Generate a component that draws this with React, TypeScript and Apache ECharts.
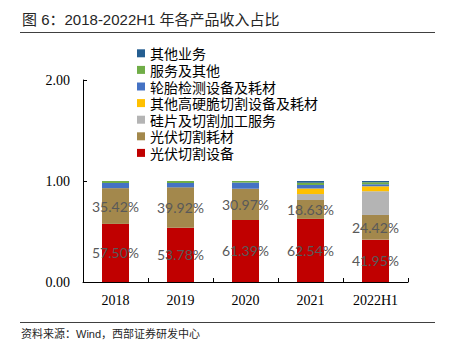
import React, { useEffect, useRef } from "react";
import * as echarts from "echarts";

const categories = ["2018", "2019", "2020", "2021", "2022H1"];
const pvEquipment = [57.5, 53.78, 61.39, 62.54, 41.95];
const pvConsumables = [35.42, 39.92, 30.97, 18.63, 24.42];
const waferService = [0, 0, 0, 5.9, 23.5];
const otherHardBrittle = [0, 0, 0, 5.5, 4.9];
const tireTesting = [5.08, 4.3, 6.04, 3.5, 2.0];
const services = [2.0, 2.0, 1.6, 2.2, 2.0];
const otherBusiness = [0, 0, 0, 1.73, 1.23];
const yTicks = [0, 1, 2];

const seriesDefs = [
  { name: "光伏切割设备", data: pvEquipment, color: "#C00000", label: true },
  { name: "光伏切割耗材", data: pvConsumables, color: "#A3884C", label: true },
  { name: "硅片及切割加工服务", data: waferService, color: "#B4B4B4", label: false },
  { name: "其他高硬脆切割设备及耗材", data: otherHardBrittle, color: "#FFC000", label: false },
  { name: "轮胎检测设备及耗材", data: tireTesting, color: "#4472C4", label: false },
  { name: "服务及其他", data: services, color: "#70AD47", label: false },
  { name: "其他业务", data: otherBusiness, color: "#255E91", label: false },
];

export default function App() {
  const ref = useRef<HTMLDivElement>(null);
  useEffect(() => {
    document.body.style.margin = "0";
    const chart = echarts.init(ref.current!, null, { renderer: "svg" });
    const serif = "'Liberation Serif', 'Times New Roman', serif";
    const cjk = "'Liberation Sans', 'Noto Sans CJK SC', sans-serif";
    chart.setOption({
      animation: false,
      grid: { left: 83, right: 41, top: 80, bottom: 68, containLabel: false },
      legend: {
        orient: "vertical",
        left: 137,
        top: 45,
        padding: 0,
        itemWidth: 8,
        itemHeight: 8,
        itemGap: 0,
        icon: "rect",
        textStyle: { fontSize: 14, lineHeight: 16.6, color: "#000", fontFamily: "'Noto Sans CJK SC', sans-serif" },
        data: seriesDefs.map((s) => s.name).reverse(),
      },
      xAxis: {
        type: "category",
        data: categories,
        axisLine: { show: true, lineStyle: { color: "#000", width: 1 } },
        axisTick: { show: true, inside: true, length: 4, lineStyle: { color: "#000" } },
        axisLabel: { fontFamily: serif, fontSize: 14, color: "#000", margin: 11 },
      },
      yAxis: {
        type: "value",
        min: yTicks[0],
        max: yTicks[yTicks.length - 1],
        interval: 1,
        axisLine: { show: true, lineStyle: { color: "#000", width: 1 } },
        axisTick: { show: true, inside: true, length: 4, lineStyle: { color: "#000" } },
        splitLine: { show: false },
        axisLabel: {
          fontFamily: serif,
          fontSize: 14,
          color: "#000",
          margin: 13,
          formatter: (v: number) => v.toFixed(2),
        },
      },
      series: seriesDefs.map((s) => ({
        name: s.name,
        type: "bar",
        stack: "total",
        barWidth: 27,
        data: s.data.map((v) => v / 100),
        itemStyle: { color: s.color },
        label: s.label
          ? {
              show: true,
              position: "inside",
              color: "#595959",
              fontSize: 14,
              fontFamily: "Lato, 'Liberation Sans', sans-serif",
              formatter: (p: any) => (p.value * 100).toFixed(2) + "%",
            }
          : { show: false },
      })),
      graphic: [
        {
          type: "text",
          left: 22,
          top: 12,
          style: {
            text: "图 6：2018-2022H1 年各产品收入占比",
            fontSize: 15,
            fontFamily: cjk,
            fill: "#262626",
          },
        },
        {
          type: "line",
          shape: { x1: 20, y1: 32.5, x2: 435, y2: 32.5 },
          style: { stroke: "#404040", lineWidth: 1 },
        },
        {
          type: "line",
          shape: { x1: 20, y1: 322.5, x2: 435, y2: 322.5 },
          style: { stroke: "#404040", lineWidth: 1 },
        },
        {
          type: "text",
          left: 21,
          top: 328,
          style: {
            text: "资料来源：Wind，西部证券研发中心",
            fontSize: 11,
            fontFamily: cjk,
            fill: "#262626",
          },
        },
      ],
    });
    return () => chart.dispose();
  }, []);
  return <div ref={ref} style={{ width: 449, height: 350 }} />;
}
